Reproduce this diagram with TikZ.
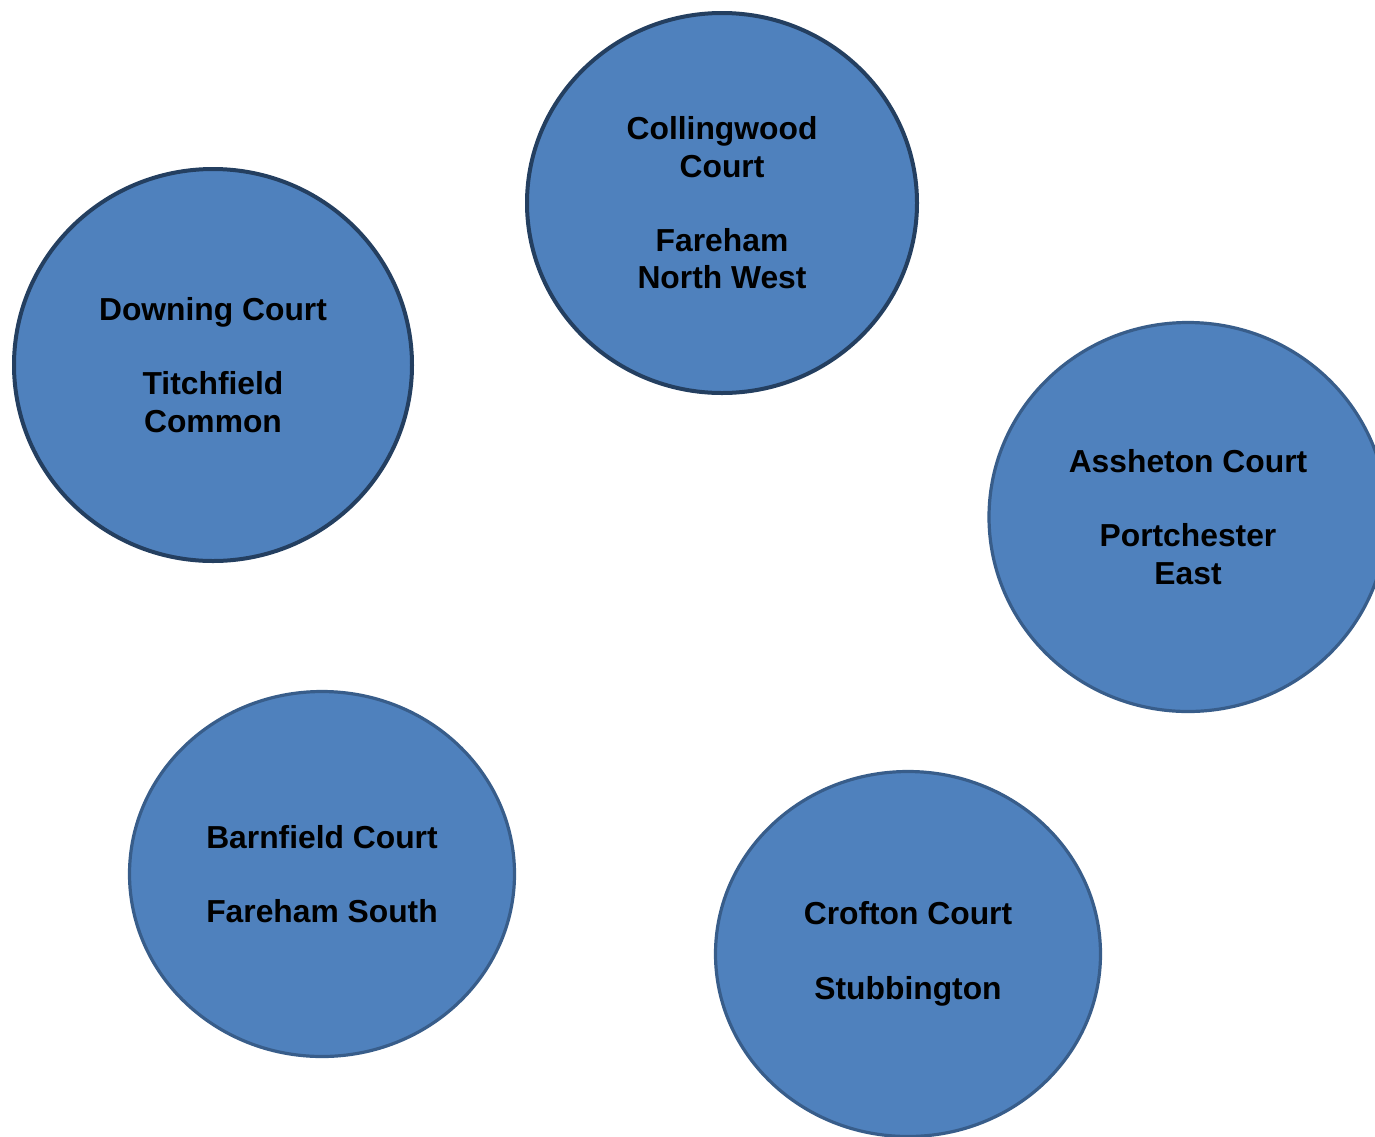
\documentclass[tikz,border=0pt]{standalone}
\usepackage{fontspec}
\setmainfont{Liberation Sans}
\usetikzlibrary{shapes.geometric}
\definecolor{courtfill}{HTML}{4F81BD}
\definecolor{courtline}{HTML}{385D8A}
\definecolor{courtdark}{HTML}{243F60}
\begin{document}
\begin{tikzpicture}[x=0.5pt,y=-0.5pt,
		court/.style={ellipse,fill=courtfill,draw=courtline,line width=1.6pt,
			inner sep=0pt,align=center,
			font=\fontsize{15.9}{18.6}\selectfont\bfseries},
		darkcourt/.style={court,draw=courtdark,line width=2pt}]
		\useasboundingbox (0,0) rectangle (1375,1136);
		
		\node[darkcourt,minimum width=195pt,minimum height=190pt] 
		(collingwood) at (722,203) {Collingwood\\Court\\[18.6pt]Fareham\\North West};
		\node[darkcourt,minimum width=199pt,minimum height=196pt] 
		(downing) at (213,365) {Downing Court\\[18.6pt]Titchfield\\Common};
		\node[court,minimum width=199pt,minimum height=194.5pt] 
		(assheton) at (1188,517) {Assheton Court\\[18.6pt]Portchester\\East};
		\node[court,minimum width=192.5pt,minimum height=182.5pt] 
		(barnfield) at (322,874) {Barnfield Court\\[18.6pt]Fareham South};
		\node[court,minimum width=192.5pt,minimum height=182.5pt] 
		(crofton) at (908,954) {Crofton Court\\[18.6pt]Stubbington};
		\end{tikzpicture}
\end{document}
